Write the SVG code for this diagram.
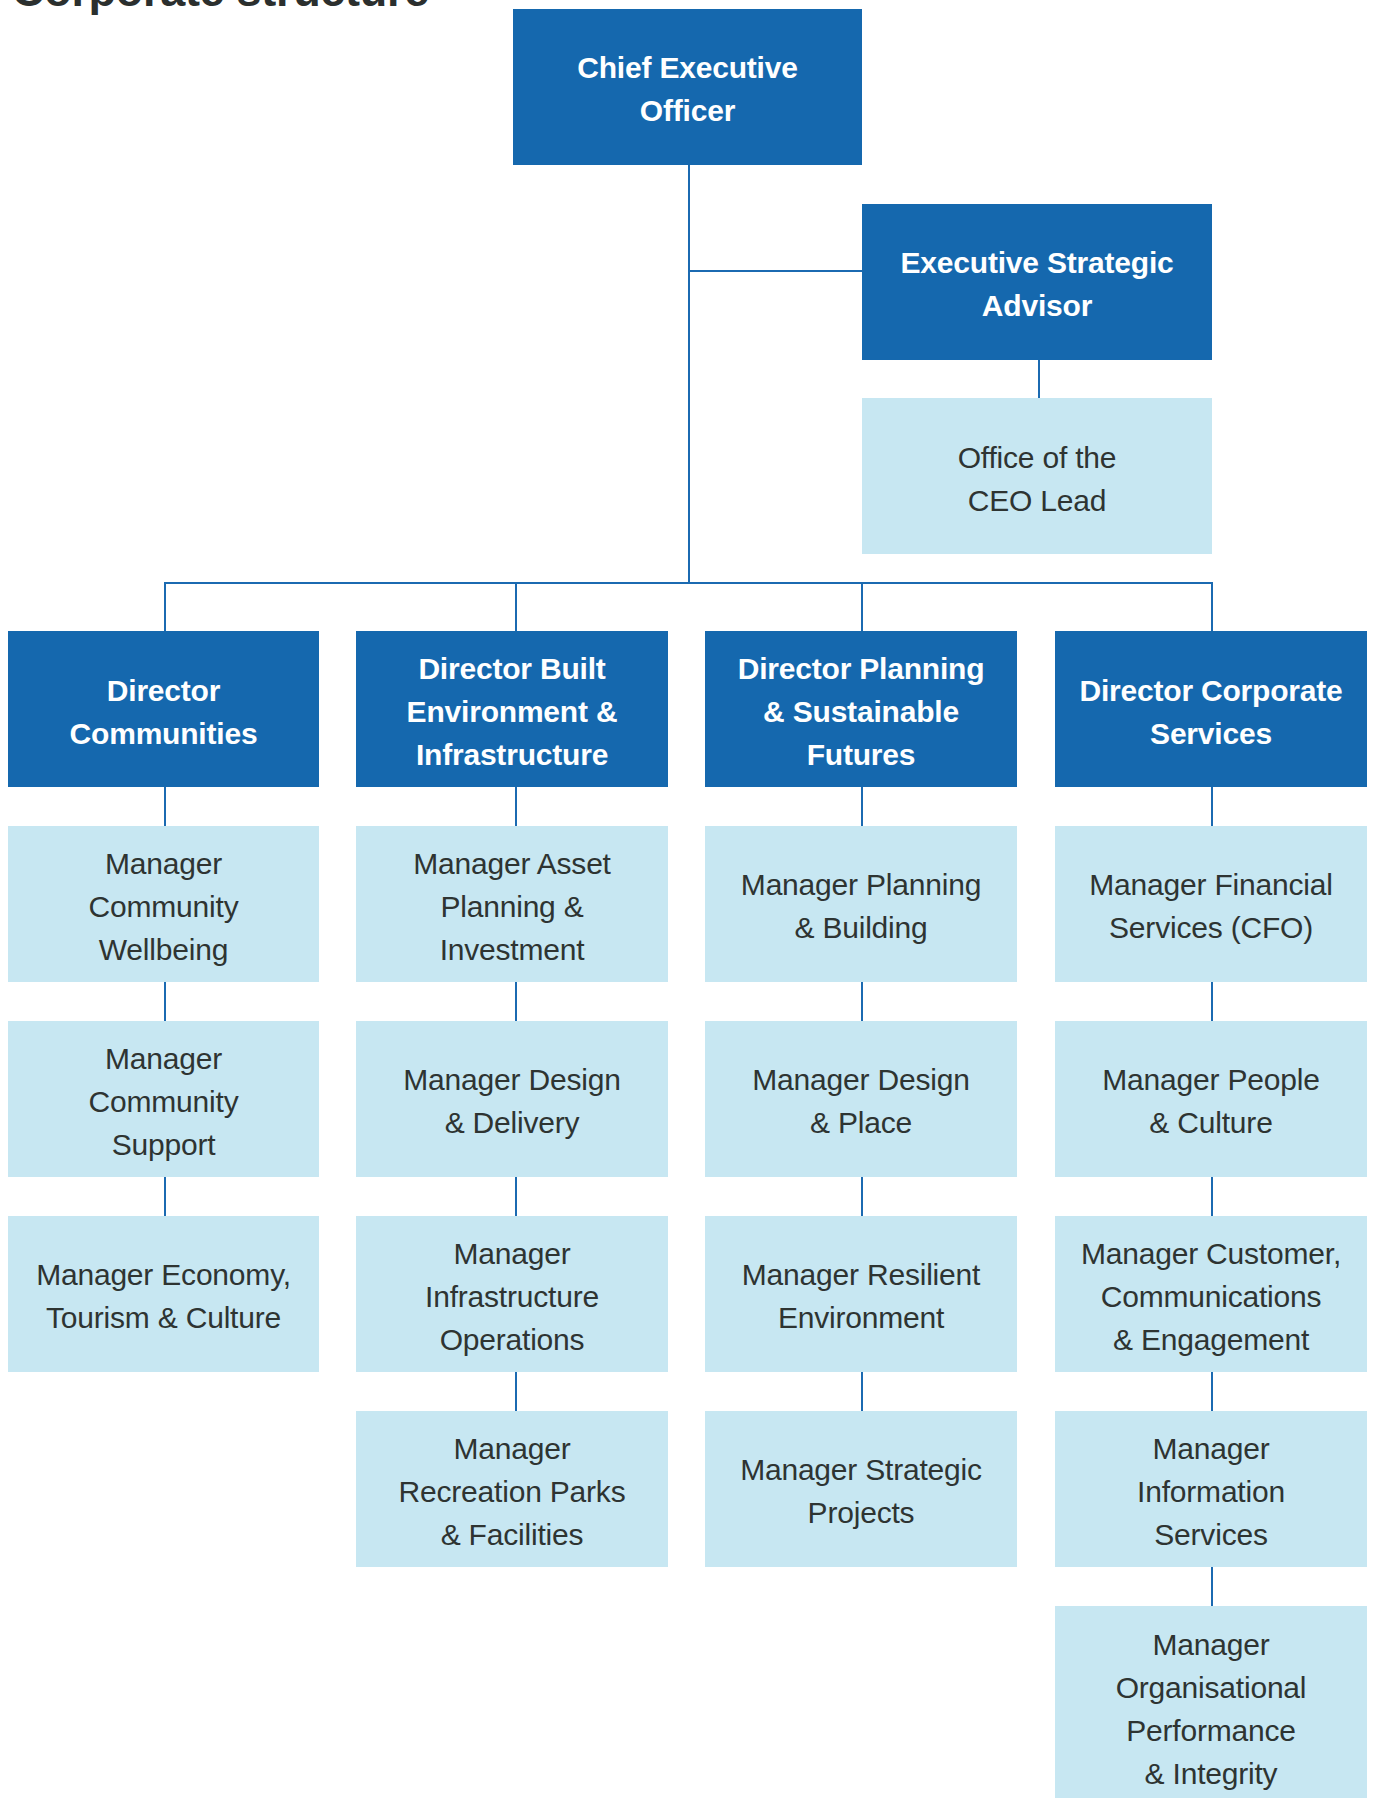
<svg xmlns="http://www.w3.org/2000/svg" width="1373" height="1798" viewBox="0 0 1373 1798">
<style>
  .dark { fill: #1568AE; }
  .light { fill: #C7E7F2; }
  .bt { font-family: "Liberation Sans", Arial, sans-serif; font-weight: bold; font-size: 30px; fill: #FFFFFF; text-anchor: middle; letter-spacing: -0.2px; }
  .rt { font-family: "Liberation Sans", Arial, sans-serif; font-size: 30px; fill: #2E3432; text-anchor: middle; letter-spacing: -0.2px; }
  .title { font-family: "Liberation Sans", Arial, sans-serif; font-weight: bold; font-size: 45px; fill: #2B2F2E; letter-spacing: -0.3px; }
  .conn { fill: none; stroke: #1B6AB1; stroke-width: 2; }
</style>
<rect width="1373" height="1798" fill="#FFFFFF"/>
<text class="title" x="12" y="6">Corporate structure</text>

<g id="connectors">
  <path class="conn" d="M689 165 V583"/>
  <path class="conn" d="M689 271 H862"/>
  <path class="conn" d="M1039 360 V398"/>
  <path class="conn" d="M165 631 V583 H1212 V631"/>
  <path class="conn" d="M516 583 V631"/>
  <path class="conn" d="M862 583 V631"/>
  <path class="conn" d="M165 787 V826 M165 982 V1021 M165 1177 V1216"/>
  <path class="conn" d="M516 787 V826 M516 982 V1021 M516 1177 V1216 M516 1372 V1411"/>
  <path class="conn" d="M862 787 V826 M862 982 V1021 M862 1177 V1216 M862 1372 V1411"/>
  <path class="conn" d="M1212 787 V826 M1212 982 V1021 M1212 1177 V1216 M1212 1372 V1411 M1212 1567 V1606"/>
</g>

<g id="ceo">
  <rect class="dark" x="513" y="9" width="349" height="156"/>
  <text class="bt"><tspan x="687.5" y="78">Chief Executive</tspan><tspan x="687.5" y="121">Officer</tspan></text>
</g>
<g id="esa">
  <rect class="dark" x="862" y="204" width="350" height="156"/>
  <text class="bt"><tspan x="1037" y="273">Executive Strategic</tspan><tspan x="1037" y="316">Advisor</tspan></text>
</g>
<g id="office-ceo">
  <rect class="light" x="862" y="398" width="350" height="156"/>
  <text class="rt"><tspan x="1037" y="468">Office of the</tspan><tspan x="1037" y="511">CEO Lead</tspan></text>
</g>

<!-- Column 1 -->
<g id="dir-communities">
  <rect class="dark" x="8" y="631" width="311" height="156"/>
  <text class="bt"><tspan x="163.5" y="701">Director</tspan><tspan x="163.5" y="744">Communities</tspan></text>
</g>
<g id="mgr-community-wellbeing">
  <rect class="light" x="8" y="826" width="311" height="156"/>
  <text class="rt"><tspan x="163.5" y="874">Manager</tspan><tspan x="163.5" y="917">Community</tspan><tspan x="163.5" y="960">Wellbeing</tspan></text>
</g>
<g id="mgr-community-support">
  <rect class="light" x="8" y="1021" width="311" height="156"/>
  <text class="rt"><tspan x="163.5" y="1069">Manager</tspan><tspan x="163.5" y="1112">Community</tspan><tspan x="163.5" y="1155">Support</tspan></text>
</g>
<g id="mgr-economy">
  <rect class="light" x="8" y="1216" width="311" height="156"/>
  <text class="rt"><tspan x="163.5" y="1285">Manager Economy,</tspan><tspan x="163.5" y="1328">Tourism &amp; Culture</tspan></text>
</g>

<!-- Column 2 -->
<g id="dir-built">
  <rect class="dark" x="356" y="631" width="312" height="156"/>
  <text class="bt"><tspan x="512" y="679">Director Built</tspan><tspan x="512" y="722">Environment &amp;</tspan><tspan x="512" y="765">Infrastructure</tspan></text>
</g>
<g id="mgr-asset">
  <rect class="light" x="356" y="826" width="312" height="156"/>
  <text class="rt"><tspan x="512" y="874">Manager Asset</tspan><tspan x="512" y="917">Planning &amp;</tspan><tspan x="512" y="960">Investment</tspan></text>
</g>
<g id="mgr-design-delivery">
  <rect class="light" x="356" y="1021" width="312" height="156"/>
  <text class="rt"><tspan x="512" y="1090">Manager Design</tspan><tspan x="512" y="1133">&amp; Delivery</tspan></text>
</g>
<g id="mgr-infra-ops">
  <rect class="light" x="356" y="1216" width="312" height="156"/>
  <text class="rt"><tspan x="512" y="1264">Manager</tspan><tspan x="512" y="1307">Infrastructure</tspan><tspan x="512" y="1350">Operations</tspan></text>
</g>
<g id="mgr-recreation">
  <rect class="light" x="356" y="1411" width="312" height="156"/>
  <text class="rt"><tspan x="512" y="1459">Manager</tspan><tspan x="512" y="1502">Recreation Parks</tspan><tspan x="512" y="1545">&amp; Facilities</tspan></text>
</g>

<!-- Column 3 -->
<g id="dir-planning">
  <rect class="dark" x="705" y="631" width="312" height="156"/>
  <text class="bt"><tspan x="861" y="679">Director Planning</tspan><tspan x="861" y="722">&amp; Sustainable</tspan><tspan x="861" y="765">Futures</tspan></text>
</g>
<g id="mgr-planning-building">
  <rect class="light" x="705" y="826" width="312" height="156"/>
  <text class="rt"><tspan x="861" y="895">Manager Planning</tspan><tspan x="861" y="938">&amp; Building</tspan></text>
</g>
<g id="mgr-design-place">
  <rect class="light" x="705" y="1021" width="312" height="156"/>
  <text class="rt"><tspan x="861" y="1090">Manager Design</tspan><tspan x="861" y="1133">&amp; Place</tspan></text>
</g>
<g id="mgr-resilient">
  <rect class="light" x="705" y="1216" width="312" height="156"/>
  <text class="rt"><tspan x="861" y="1285">Manager Resilient</tspan><tspan x="861" y="1328">Environment</tspan></text>
</g>
<g id="mgr-strategic-projects">
  <rect class="light" x="705" y="1411" width="312" height="156"/>
  <text class="rt"><tspan x="861" y="1480">Manager Strategic</tspan><tspan x="861" y="1523">Projects</tspan></text>
</g>

<!-- Column 4 -->
<g id="dir-corporate">
  <rect class="dark" x="1055" y="631" width="312" height="156"/>
  <text class="bt"><tspan x="1211" y="701">Director Corporate</tspan><tspan x="1211" y="744">Services</tspan></text>
</g>
<g id="mgr-financial">
  <rect class="light" x="1055" y="826" width="312" height="156"/>
  <text class="rt"><tspan x="1211" y="895">Manager Financial</tspan><tspan x="1211" y="938">Services (CFO)</tspan></text>
</g>
<g id="mgr-people">
  <rect class="light" x="1055" y="1021" width="312" height="156"/>
  <text class="rt"><tspan x="1211" y="1090">Manager People</tspan><tspan x="1211" y="1133">&amp; Culture</tspan></text>
</g>
<g id="mgr-customer">
  <rect class="light" x="1055" y="1216" width="312" height="156"/>
  <text class="rt"><tspan x="1211" y="1264">Manager Customer,</tspan><tspan x="1211" y="1307">Communications</tspan><tspan x="1211" y="1350">&amp; Engagement</tspan></text>
</g>
<g id="mgr-information">
  <rect class="light" x="1055" y="1411" width="312" height="156"/>
  <text class="rt"><tspan x="1211" y="1459">Manager</tspan><tspan x="1211" y="1502">Information</tspan><tspan x="1211" y="1545">Services</tspan></text>
</g>
<g id="mgr-org-performance">
  <rect class="light" x="1055" y="1606" width="312" height="202"/>
  <text class="rt"><tspan x="1211" y="1655">Manager</tspan><tspan x="1211" y="1698">Organisational</tspan><tspan x="1211" y="1741">Performance</tspan><tspan x="1211" y="1784">&amp; Integrity</tspan></text>
</g>
</svg>
